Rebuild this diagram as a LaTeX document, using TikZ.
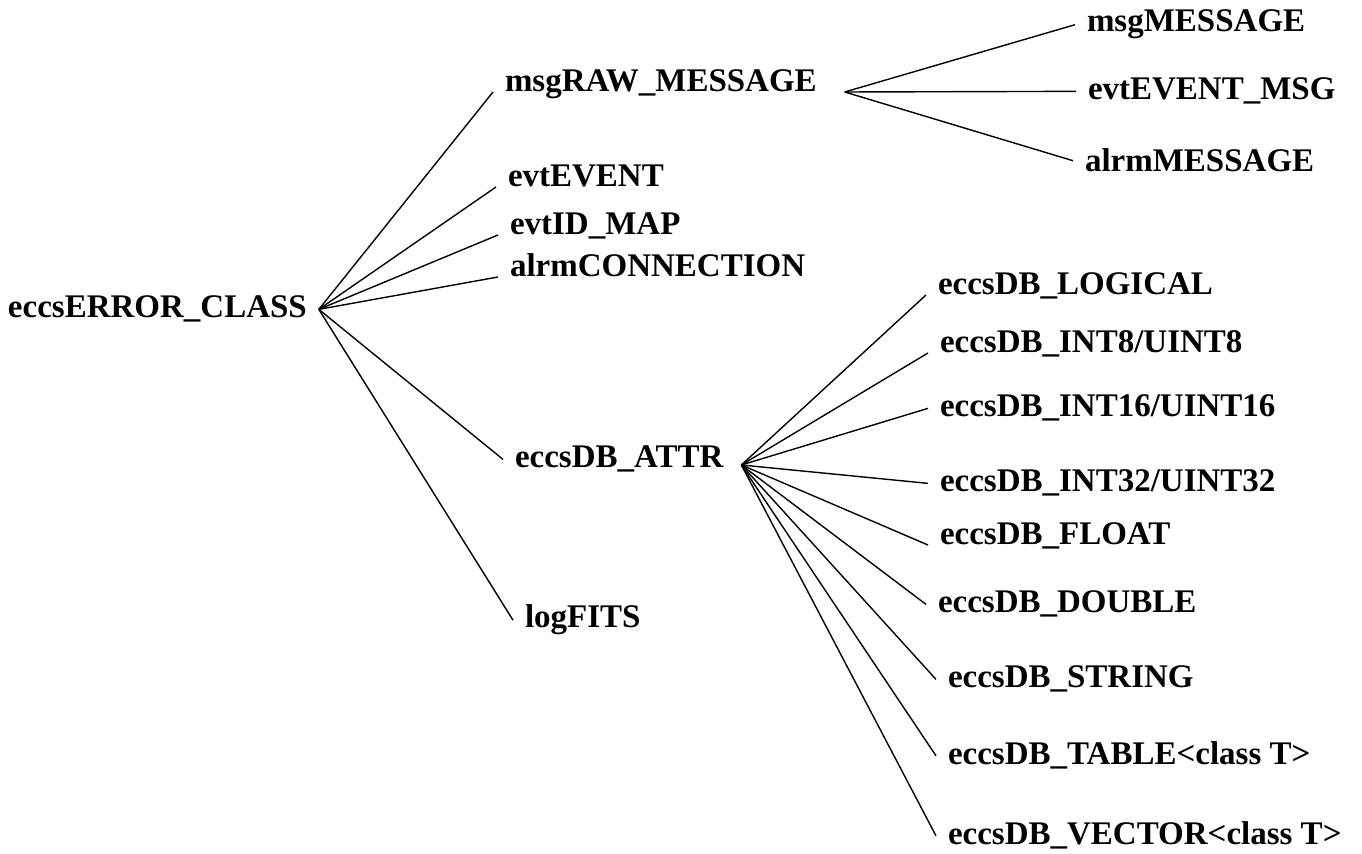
\documentclass[tikz,border=0pt]{standalone}
\usepackage{fontspec}
\setmainfont{Liberation Serif}

\begin{document}
\begin{tikzpicture}[
  x=0.5pt, y=-0.5pt,
  cls/.style={
    font=\fontsize{16.5}{18}\selectfont\bfseries,
    inner sep=0pt,
    outer xsep=6pt,
    anchor=base west
  },
  link/.style={line width=0.7pt}
]
\useasboundingbox (0,0) rectangle (1362,854);

% --------------------
% Root and first level
% --------------------
\node[cls] (root) at (-4,318) {eccsERROR\_CLASS};

\node[cls] (rawmsg)   at (493,92)  {msgRAW\_MESSAGE};
\node[cls] (evt)      at (496,187) {evtEVENT};
\node[cls] (idmap)    at (498,235) {evtID\_MAP};
\node[cls] (alrmconn) at (498,277) {alrmCONNECTION};
\node[cls] (dbattr)   at (503,468) {eccsDB\_ATTR};
\node[cls] (logfits)  at (513,628) {logFITS};

% --------------------
% Messages
% --------------------
\node[cls] (msgmsg)  at (1075,32)  {msgMESSAGE};
\node[cls] (evtmsg)  at (1076,100) {evtEVENT\_MSG};
\node[cls] (alrmmsg) at (1073,172) {alrmMESSAGE};

% --------------------
% Database attributes
% --------------------
\node[cls] (dblogical) at (926,295) {eccsDB\_LOGICAL};
\node[cls] (dbint8)    at (928,353) {eccsDB\_INT8/UINT8};
\node[cls] (dbint16)   at (928,417) {eccsDB\_INT16/UINT16};
\node[cls] (dbint32)   at (928,492) {eccsDB\_INT32/UINT32};
\node[cls] (dbfloat)   at (928,545) {eccsDB\_FLOAT};
\node[cls] (dbdouble)  at (926,613) {eccsDB\_DOUBLE};
\node[cls] (dbstring)  at (936,688) {eccsDB\_STRING};
\node[cls] (dbtable)   at (936,765) {eccsDB\_TABLE\textless class T\textgreater};
\node[cls] (dbvector)  at (936,845) {eccsDB\_VECTOR\textless class T\textgreater};

\coordinate (rawfan)  at ([xshift=8pt]rawmsg.base east);
\coordinate (attrfan) at ([xshift=3pt,yshift=1.5pt]dbattr.base east);

% --------------------
% Lines: root
% --------------------
\draw[link] (root.east) -- (rawmsg.base west);
\draw[link] (root.east) -- (evt.base west);
\draw[link] (root.east) -- (idmap.base west);
\draw[link] (root.east) -- (alrmconn.base west);
\draw[link] (root.east) -- (dbattr.west);
\draw[link] (root.east) -- (logfits.west);

% --------------------
% Lines: messages
% --------------------
\draw[link] (rawfan) -- (msgmsg.west);
\draw[link] (rawfan) -- (evtmsg.west);
\draw[link] (rawfan) -- (alrmmsg.west);

% --------------------
% Lines: attributes
% --------------------
\draw[link] (attrfan) -- (dblogical.base west);
\draw[link] (attrfan) -- (dbint8.base west);
\draw[link] (attrfan) -- (dbint16.west);
\draw[link] (attrfan) -- (dbint32.west);
\draw[link] (attrfan) -- (dbfloat.base west);
\draw[link] (attrfan) -- (dbdouble.west);
\draw[link] (attrfan) -- (dbstring.west);
\draw[link] (attrfan) -- (dbtable.west);
\draw[link] (attrfan) -- (dbvector.west);

\end{tikzpicture}
\end{document}
